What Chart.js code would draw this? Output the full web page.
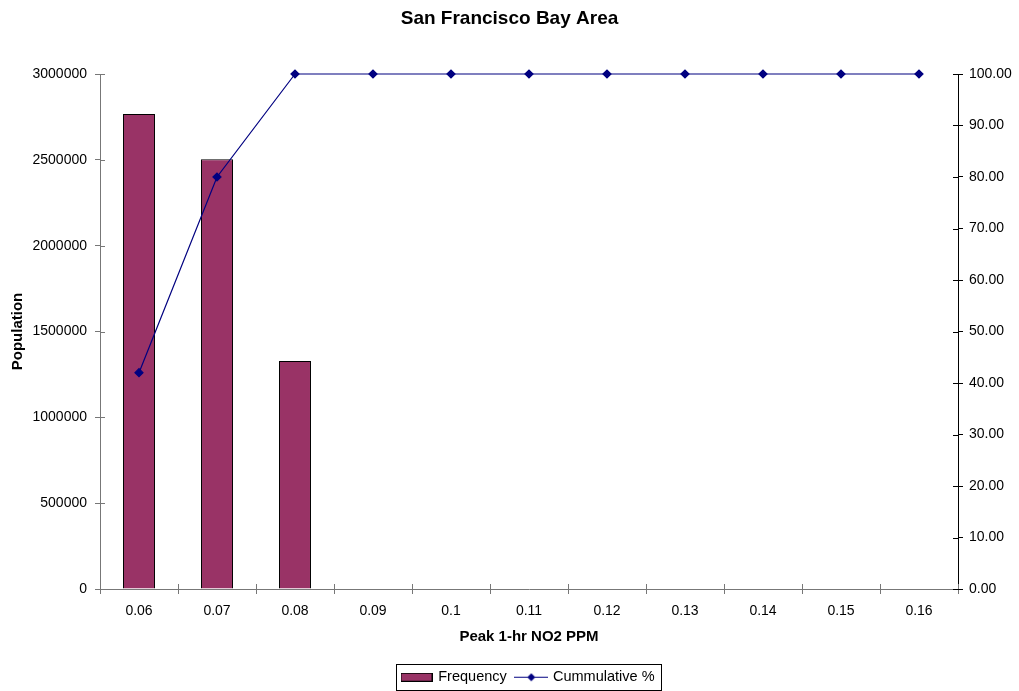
<!DOCTYPE html>
<html>
<head>
<meta charset="utf-8">
<script src="https://cdn.jsdelivr.net/npm/chart.js@4/dist/chart.umd.min.js"></script>
<style>
  html, body { margin: 0; padding: 0; background: #fff; }
  #wrap { width: 1019px; height: 691px; }
</style>
</head>
<body>
<div id="wrap"><canvas id="c" width="1019" height="691"></canvas></div>
<script>
var categories = ['0.06','0.07','0.08','0.09','0.1','0.11','0.12','0.13','0.14','0.15','0.16'];
var frequency = [2767000, 2503000, 1328000, 0, 0, 0, 0, 0, 0, 0, 0];
var cumulative = [42.0, 80.0, 100, 100, 100, 100, 100, 100, 100, 100, 100];
var popTicks = [0, 500000, 1000000, 1500000, 2000000, 2500000, 3000000];
var pctTicks = [0, 10, 20, 30, 40, 50, 60, 70, 80, 90, 100];

var barColor = '#993366', lineColor = '#000080';
var font = 'Liberation Sans, Arial, sans-serif';
Chart.defaults.font.family = font;
Chart.defaults.color = '#000';

// legend swatches
function icon(w, h, draw) {
  var cv = document.createElement('canvas');
  cv.width = w; cv.height = h;
  draw(cv.getContext('2d'));
  return cv;
}
var freqIcon = icon(32, 9, function (g) {
  g.fillStyle = barColor; g.fillRect(0.5, 0.5, 31, 8);
  g.strokeStyle = '#000'; g.lineWidth = 1; g.strokeRect(0.5, 0.5, 31, 8);
});
var lineIcon = icon(34, 9, function (g) {
  g.strokeStyle = lineColor; g.lineWidth = 1;
  g.beginPath(); g.moveTo(0, 4.5); g.lineTo(34, 4.5); g.stroke();
  g.fillStyle = lineColor;
  g.beginPath(); g.moveTo(17, 0.5); g.lineTo(21, 4.5); g.lineTo(17, 8.5); g.lineTo(13, 4.5); g.closePath(); g.fill();
});

// where the first legend item should sit (as in the excel legend box)
var legendLeft = 402, legendTop = 670;

// excel style ticks that cross the axis, plus legend frame
var extras = {
  id: 'extras',
  afterUpdate: function (chart) {
    var lg = chart.legend;
    if (!lg || !lg.legendHitBoxes || !lg.legendHitBoxes.length) return;
    var dx = legendLeft - lg.legendHitBoxes[0].left, dy = legendTop - lg.legendHitBoxes[0].top;
    lg.left += dx; lg.right += dx; lg.top += dy; lg.bottom += dy;
    lg.legendHitBoxes.forEach(function (h) { h.left += dx; h.top += dy; });
  },
  afterDraw: function (chart) {
    var ctx = chart.ctx, a = chart.chartArea;
    ctx.save();
    ctx.lineWidth = 1;
    var y = chart.scales.y, y1 = chart.scales.y1;
    ctx.strokeStyle = '#777';
    ctx.beginPath();
    var n = categories.length;
    for (var i = 0; i <= n; i++) {
      var px = Math.round(a.left + i * (a.right - a.left) / n) + 0.5;
      ctx.moveTo(px, a.bottom); ctx.lineTo(px, a.bottom - 5);
    }
    popTicks.forEach(function (v) {
      var py = Math.round(y.getPixelForValue(v)) + 0.5;
      ctx.moveTo(a.left, py); ctx.lineTo(a.left + 5, py);
    });
    ctx.stroke();
    ctx.strokeStyle = '#000';
    ctx.beginPath();
    pctTicks.forEach(function (v) {
      var py = Math.round(y1.getPixelForValue(v)) + 0.5;
      ctx.moveTo(a.right, py); ctx.lineTo(a.right - 5, py);
    });
    ctx.stroke();

    var hb = chart.legend.legendHitBoxes;
    if (hb && hb.length) {
      var l = Infinity, r = -Infinity, t = Infinity, b = -Infinity;
      hb.forEach(function (h) {
        l = Math.min(l, h.left); r = Math.max(r, h.left + h.width);
        t = Math.min(t, h.top); b = Math.max(b, h.top + h.height);
      });
      ctx.strokeStyle = '#000';
      ctx.strokeRect(Math.round(l - 6) + 0.5, Math.round(t - 6) + 0.5, Math.round(r - l + 12), Math.round(b - t + 11));
    }
    ctx.restore();
  }
};

new Chart(document.getElementById('c'), {
  type: 'bar',
  data: {
    labels: categories,
    datasets: [
      { label: 'Frequency', data: frequency, backgroundColor: barColor, borderColor: '#000', borderWidth: 1,
        barPercentage: 0.41, categoryPercentage: 1, yAxisID: 'y', order: 2 },
      { label: 'Cummulative %', type: 'line', data: cumulative, borderColor: lineColor, backgroundColor: lineColor,
        borderWidth: 1.2, tension: 0, pointStyle: 'rectRot', pointRadius: 4, pointBackgroundColor: lineColor,
        pointBorderColor: lineColor, yAxisID: 'y1', order: 1, clip: false }
    ]
  },
  options: {
    responsive: false,
    animation: false,
    layout: { padding: { top: 0, bottom: 0, left: 0, right: 0 } },
    plugins: {
      title: { display: true, text: 'San Francisco Bay Area', font: { size: 19, weight: 'bold' }, padding: { top: 7, bottom: 44.2 } },
      legend: {
        position: 'bottom',
        labels: {
          usePointStyle: true, pointStyleWidth: 29, padding: 10, font: { size: 14.5 },
          generateLabels: function (chart) {
            return chart.data.datasets.map(function (d, i) {
              return { text: d.label, datasetIndex: i, pointStyle: i === 0 ? freqIcon : lineIcon,
                fillStyle: d.backgroundColor, strokeStyle: d.borderColor, lineWidth: 0, hidden: false, fontColor: '#000' };
            });
          }
        }
      },
      tooltip: { enabled: false }
    },
    scales: {
      x: {
        offset: true,
        grid: { display: true, drawOnChartArea: false, offset: true, tickLength: 5, color: '#777' },
        border: { display: true, color: '#777' },
        ticks: { font: { size: 14 }, padding: 9, maxRotation: 0 },
        title: { display: true, text: 'Peak 1-hr NO2 PPM', font: { size: 15, weight: 'bold' }, padding: { top: 0, bottom: 11 } },
        afterFit: function (s) {
          var lg = s.chart.legend;
          s.height = s.chart.height - (lg ? lg.height : 0) - 589;
        }
      },
      y: {
        position: 'left', min: 0, max: 3000000,
        grid: { display: true, drawOnChartArea: false, tickLength: 5, color: '#777' },
        border: { display: true, color: '#777' },
        ticks: { stepSize: 500000, font: { size: 14 }, padding: 8, callback: function (v) { return String(v); } },
        afterBuildTicks: function (s) { s.ticks = popTicks.map(function (v) { return { value: v }; }); },
        title: { display: true, text: 'Population', font: { size: 15, weight: 'bold' }, padding: { top: 9 } },
        afterFit: function (s) { s.width = 100; }
      },
      y1: {
        position: 'right', min: 0, max: 100,
        grid: { display: true, drawOnChartArea: false, tickLength: 5, color: '#000' },
        border: { display: true, color: '#000' },
        ticks: { stepSize: 10, font: { size: 14 }, padding: 6, callback: function (v) { return Number(v).toFixed(2); } },
        afterBuildTicks: function (s) { s.ticks = pctTicks.map(function (v) { return { value: v }; }); },
        afterFit: function (s) { s.width = 61; }
      }
    }
  },
  plugins: [extras]
});
</script>
</body>
</html>
